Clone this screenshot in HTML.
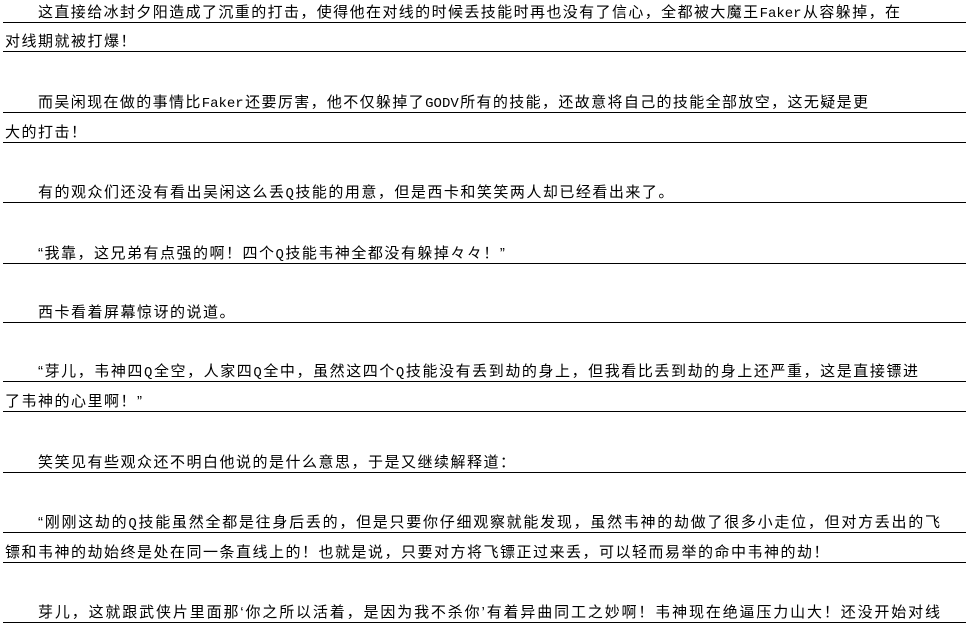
<!DOCTYPE html>
<html><head><meta charset="utf-8"><style>
html,body{margin:0;padding:0;background:#fff;}
body{width:966px;height:629px;position:relative;overflow:hidden;font-family:"Liberation Sans","WenQuanYi Zen Hei","Noto Sans CJK SC",sans-serif;color:#000;}
.r{position:absolute;left:3px;width:963px;height:1px;background:#000;}
.t{position:absolute;font-size:15px;line-height:18px;white-space:nowrap;letter-spacing:1.5px;}
.j{text-align:justify;text-align-last:justify;letter-spacing:0;}
.m{font-family:"Liberation Mono",monospace;font-size:14px;}
</style></head><body>
<div class="r" style="top:22px"></div>
<div class="r" style="top:51px"></div>
<div class="r" style="top:112px"></div>
<div class="r" style="top:142px"></div>
<div class="r" style="top:202px"></div>
<div class="r" style="top:263px"></div>
<div class="r" style="top:322px"></div>
<div class="r" style="top:381px"></div>
<div class="r" style="top:411px"></div>
<div class="r" style="top:472px"></div>
<div class="r" style="top:532px"></div>
<div class="r" style="top:562px"></div>
<div class="r" style="top:622px"></div>

<div class="t j" style="left:38px;top:4px;width:862px">这直接给冰封夕阳造成了沉重的打击，使得他在对线的时候丢技能时再也没有了信心，全都被大魔王<span class="m">Faker</span>从容躲掉，在</div>
<div class="t" style="left:5px;top:33px">对线期就被打爆！</div>
<div class="t j" style="left:38px;top:94px;width:830px">而吴闲现在做的事情比<span class="m">Faker</span>还要厉害，他不仅躲掉了<span class="m">GODV</span>所有的技能，还故意将自己的技能全部放空，这无疑是更</div>
<div class="t" style="left:5px;top:124px">大的打击！</div>
<div class="t" style="left:38px;top:184px">有的观众们还没有看出吴闲这么丢<span class="m">Q</span>技能的用意，但是西卡和笑笑两人却已经看出来了。</div>
<div class="t" style="left:38px;top:245px">“我靠，这兄弟有点强的啊！四个<span class="m">Q</span>技能韦神全都没有躲掉々々！”</div>
<div class="t" style="left:38px;top:304px">西卡看着屏幕惊讶的说道。</div>
<div class="t j" style="left:38px;top:363px;width:880px">“芽儿，韦神四<span class="m">Q</span>全空，人家四<span class="m">Q</span>全中，虽然这四个<span class="m">Q</span>技能没有丢到劫的身上，但我看比丢到劫的身上还严重，这是直接镖进</div>
<div class="t" style="left:5px;top:393px">了韦神的心里啊！”</div>
<div class="t" style="left:38px;top:454px">笑笑见有些观众还不明白他说的是什么意思，于是又继续解释道：</div>
<div class="t j" style="left:38px;top:514px;width:902px">“刚刚这劫的<span class="m">Q</span>技能虽然全都是往身后丢的，但是只要你仔细观察就能发现，虽然韦神的劫做了很多小走位，但对方丢出的飞</div>
<div class="t" style="left:5px;top:544px">镖和韦神的劫始终是处在同一条直线上的！也就是说，只要对方将飞镖正过来丢，可以轻而易举的命中韦神的劫！</div>
<div class="t j" style="left:38px;top:604px;width:902px">芽儿，这就跟武侠片里面那‘你之所以活着，是因为我不杀你’有着异曲同工之妙啊！韦神现在绝逼压力山大！还没开始对线</div>
</body></html>
